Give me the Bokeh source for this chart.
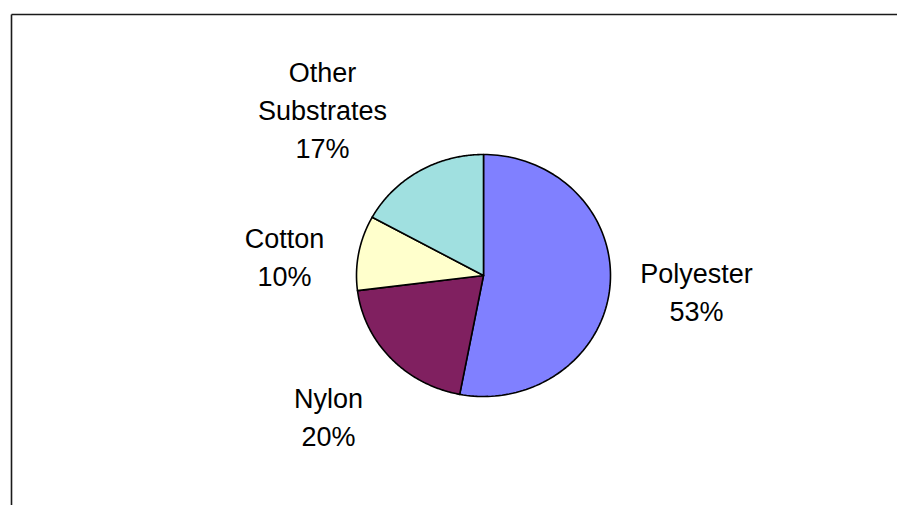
import numpy as np
from bokeh.plotting import figure
from bokeh.models import Range1d, ColumnDataSource
from bokeh.core.properties import value
from bokeh.embed import file_html
from bokeh.resources import INLINE

# Share of dyed fabric by substrate, listed clockwise from 12 o'clock
categories = ["Polyester", "Nylon", "Cotton", "Other Substrates"]
shares = [53, 20, 10, 17]
colors = ["#8080FF", "#802060", "#FFFFCC", "#A0E0E0"]

# Layout (screen pixels, y measured downward)
W, H = 897, 505
CX, CY = 483, 275          # pie centre
RX, RY = 127, 121          # pie radii
label_x = [696, 328, 284, 322]        # centre of each label block
label_y0 = [273, 398, 238, 72]        # baseline of first label line
LINE_STEP = 38
FONT = "Liberation Sans"

p = figure(width=W, height=H, output_backend="svg", toolbar_location=None,
           x_range=Range1d(0, W), y_range=Range1d(H, 0),
           min_border=0, outline_line_color=None)
p.axis.visible = False
p.grid.visible = False
p.background_fill_color = "white"
p.border_fill_color = "white"

# Pie slices as polygons, clockwise from the top
total = float(sum(shares))
xs, ys = [], []
start = np.pi / 2
for s in shares:
    sweep = 2 * np.pi * s / total
    t = np.linspace(start, start - sweep, 120)
    xs.append([CX] + list(CX + RX * np.cos(t)) + [CX])
    ys.append([CY] + list(CY - RY * np.sin(t)) + [CY])
    start -= sweep

p.patches(xs, ys, fill_color=colors, line_color="black", line_width=1.6,
          line_join="round")

# Chart frame (top and left edges)
p.line([11, W], [14, 14], line_color="#1a1a1a", line_width=1.6)
p.line([11, 11], [14, H], line_color="#1a1a1a", line_width=1.6)

# Data labels: category name (wrapped) and percentage
tx, ty, tt = [], [], []
for name, s, lx, ly in zip(categories, shares, label_x, label_y0):
    lines = name.split(" ") + [f"{s}%"]
    for i, ln in enumerate(lines):
        tx.append(lx)
        ty.append(ly + i * LINE_STEP)
        tt.append(ln)

src = ColumnDataSource(dict(x=tx, y=ty, text=tt))
p.text("x", "y", text="text", source=src, text_align="center",
       text_baseline="alphabetic", text_font=value(FONT),
       text_font_size="27px", text_color="black")

open("out.html", "w").write(file_html(p, INLINE))
